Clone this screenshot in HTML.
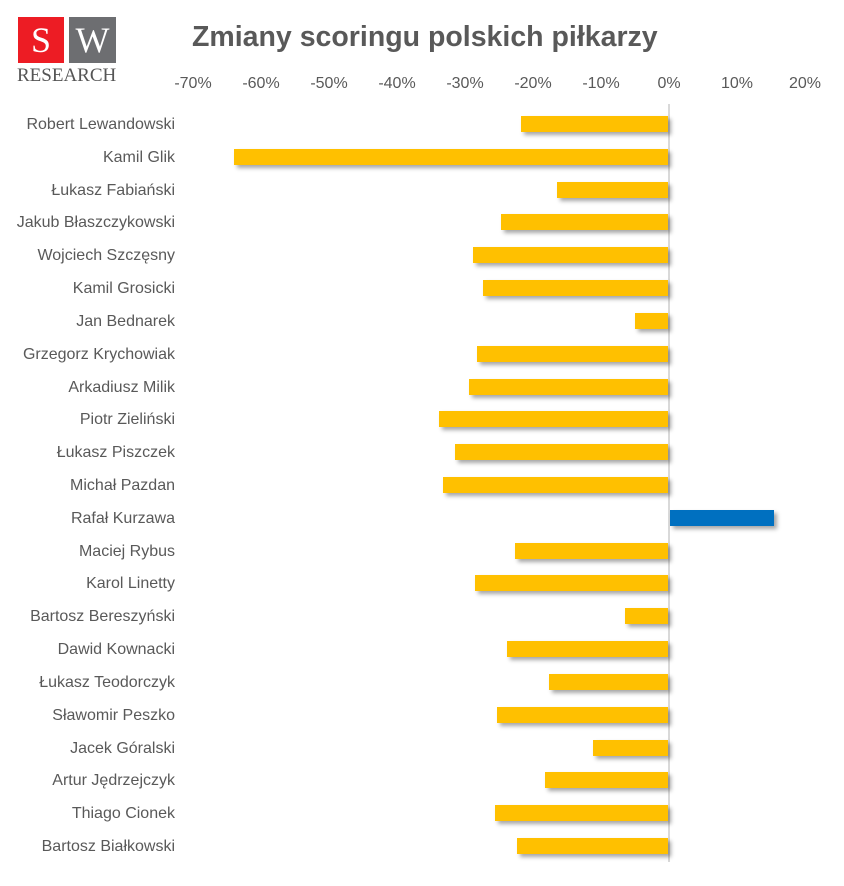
<!DOCTYPE html>
<html><head><meta charset="utf-8"><style>
body{margin:0;background:#fff;width:844px;height:886px;overflow:hidden;position:relative;font-family:"Liberation Sans",sans-serif}
.t{position:absolute;color:#595959;font-size:16px}
.bar{position:absolute;height:16px;box-shadow:3px 3px 4px rgba(0,0,0,0.35)}
</style></head><body>
<div style="position:absolute;left:18px;top:17px;width:46px;height:46px;background:#ed1c24;color:#fff;font:36px 'Liberation Serif',serif;text-align:center;line-height:46px">S</div>
<div style="position:absolute;left:69px;top:17px;width:47px;height:46px;background:#6d6e71;color:#fff;font:36px 'Liberation Serif',serif;text-align:center;line-height:46px">W</div>
<div style="position:absolute;left:17px;top:65px;width:100px;font:19px 'Liberation Serif',serif;color:#555;letter-spacing:0px;white-space:nowrap">RESEARCH</div>
<div style="position:absolute;left:192px;top:21px;font-size:28.5px;font-weight:bold;color:#595959;white-space:nowrap">Zmiany scoringu polskich piłkarzy</div>
<div style="position:absolute;left:668px;top:104px;width:2px;height:758px;background:#d9d9d9"></div>
<div id="c"></div>
<script>
var ticks=["-70%","-60%","-50%","-40%","-30%","-20%","-10%","0%","10%","20%"];
var h="";
ticks.forEach(function(t,i){var x=193+i*68;h+='<div class="t" style="left:'+(x-30)+'px;width:60px;text-align:center;top:75px">'+t+'</div>';});
var d=[["Robert Lewandowski",521],["Kamil Glik",234],["Łukasz Fabiański",557],["Jakub Błaszczykowski",501],["Wojciech Szczęsny",473],["Kamil Grosicki",483],["Jan Bednarek",635],["Grzegorz Krychowiak",477],["Arkadiusz Milik",469],["Piotr Zieliński",439],["Łukasz Piszczek",455],["Michał Pazdan",443],["Rafał Kurzawa",-774],["Maciej Rybus",515],["Karol Linetty",475],["Bartosz Bereszyński",625],["Dawid Kownacki",507],["Łukasz Teodorczyk",549],["Sławomir Peszko",497],["Jacek Góralski",593],["Artur Jędrzejczyk",545],["Thiago Cionek",495],["Bartosz Białkowski",517]];
d.forEach(function(r,i){var c=124+i*32.82;
h+='<div class="t" style="right:669px;top:'+(c-8)+'px;white-space:nowrap">'+r[0]+'</div>';
if(r[1]<0)h+='<div class="bar" style="left:670px;width:'+(-r[1]-670)+'px;top:'+(c-8)+'px;background:#0070c0"></div>';
else h+='<div class="bar" style="left:'+r[1]+'px;width:'+(668-r[1])+'px;top:'+(c-8)+'px;background:#ffc000"></div>';});
document.getElementById("c").innerHTML=h;
</script>
</body></html>
